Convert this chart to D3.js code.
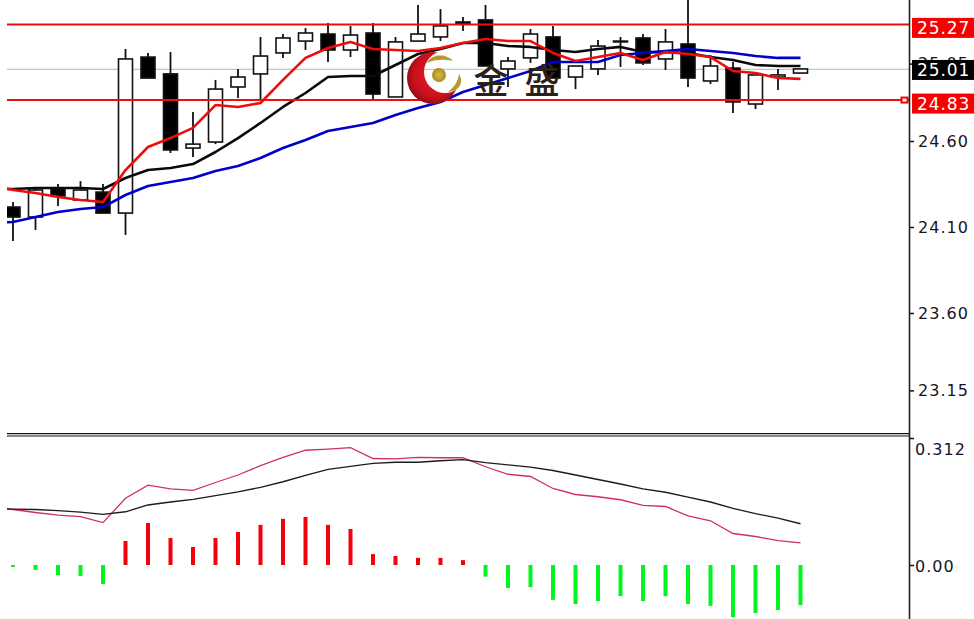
<!DOCTYPE html>
<html>
<head>
<meta charset="utf-8">
<script src="https://cdnjs.cloudflare.com/ajax/libs/d3/7.8.5/d3.min.js"></script>
<style type="text/css">
html, body { margin: 0; padding: 0; background: #fff; }
svg { display: block; }
svg text { font-family: 'DejaVu Sans', sans-serif; }
.axis text { font-size: 16px; letter-spacing: 1.05px; fill: #15151f; }
.axis line { stroke: #111; stroke-width: 1.5; }
.badge text { font-size: 17px; letter-spacing: 0.9px; fill: #fff; }
</style>
</head>
<body>
<div id="chart"></div>
<script type="text/javascript">

// candles
var opens  = [24.216,24.158,24.321,24.257,24.303,24.181,25.088,24.990,24.559,24.594,24.914,24.990,25.112,25.181,25.222,25.129,25.228,24.856,25.181,25.205,25.283,25.304,25.019,25.083,25.205,24.972,25.019,25.176,25.199,25.077,25.164,24.949,25.024,24.815,24.972,24.995];
var closes = [24.158,24.315,24.280,24.315,24.181,25.077,24.966,24.548,24.582,24.902,24.972,25.094,25.199,25.228,25.129,25.216,24.873,25.176,25.222,25.269,25.292,25.036,25.065,25.222,24.966,25.036,25.152,25.181,25.054,25.176,24.966,25.036,24.827,24.984,24.984,25.019];
var highs  = [24.245,24.333,24.350,24.367,24.350,25.135,25.112,25.117,24.769,24.955,25.019,25.205,25.222,25.257,25.286,25.269,25.286,25.205,25.391,25.367,25.321,25.391,25.088,25.251,25.269,25.036,25.187,25.205,25.222,25.251,25.420,25.100,25.059,24.984,25.019,25.019];
var lows   = [24.019,24.083,24.222,24.257,24.181,24.054,24.966,24.530,24.507,24.582,24.850,24.838,25.083,25.129,25.059,25.088,24.844,24.856,25.181,25.181,25.240,25.036,24.914,25.054,24.966,24.902,24.984,25.030,25.042,25.013,24.914,24.931,24.763,24.786,24.897,24.995];

// moving averages, first value sits one bar left of the first candle
var maRed   = [24.344,24.315,24.298,24.274,24.257,24.245,24.431,24.565,24.617,24.676,24.809,24.798,24.821,24.955,25.083,25.141,25.176,25.135,25.129,25.123,25.141,25.170,25.193,25.181,25.181,25.112,25.065,25.088,25.112,25.071,25.117,25.106,25.088,25.007,24.995,24.966,24.961];
var maBlack = [24.321,24.321,24.327,24.327,24.327,24.321,24.385,24.431,24.443,24.466,24.536,24.617,24.705,24.798,24.879,24.972,24.978,24.978,25.042,25.106,25.135,25.170,25.170,25.152,25.147,25.129,25.117,25.135,25.147,25.117,25.117,25.112,25.088,25.071,25.042,25.036,25.036];
var maBlue  = [24.123,24.129,24.158,24.187,24.205,24.216,24.286,24.338,24.362,24.385,24.426,24.455,24.501,24.559,24.606,24.658,24.681,24.705,24.751,24.792,24.827,24.885,24.926,24.966,25.007,25.059,25.059,25.059,25.100,25.112,25.123,25.135,25.123,25.112,25.094,25.083,25.083];

// macd panel
var macdFast = [0.160,0.148,0.140,0.133,0.129,0.113,0.178,0.213,0.203,0.199,0.220,0.240,0.265,0.287,0.306,0.309,0.313,0.284,0.283,0.287,0.286,0.286,0.262,0.242,0.236,0.204,0.188,0.182,0.174,0.159,0.156,0.131,0.118,0.084,0.076,0.065,0.059];
var macdSlow = [0.149,0.149,0.148,0.145,0.141,0.135,0.142,0.160,0.168,0.175,0.185,0.195,0.207,0.222,0.239,0.255,0.263,0.271,0.274,0.274,0.278,0.281,0.273,0.267,0.261,0.252,0.240,0.228,0.216,0.203,0.194,0.181,0.168,0.151,0.137,0.125,0.110];
var macdHist = [-0.005,-0.013,-0.027,-0.029,-0.051,0.064,0.112,0.072,0.048,0.072,0.088,0.107,0.123,0.128,0.107,0.096,0.029,0.024,0.019,0.019,0.013,-0.031,-0.061,-0.059,-0.093,-0.104,-0.096,-0.083,-0.096,-0.083,-0.104,-0.109,-0.139,-0.128,-0.120,-0.107];

// axis labels and levels
var priceTicks = [25.05, 24.60, 24.10, 23.60, 23.15];
var macdTicks = [0.312, 0];
var levelLines = [25.278, 24.838];
var lastLine = 25.016;
var badgeLabels = ["25.27", "25.01", "24.83"];
var badgeValues = [25.278, 25.016, 24.838];

var width = 974, height = 619, left = 7, right = 909, sep = 433;

var svg = d3.select("#chart").append("svg")
  .attr("width", width)
  .attr("height", height);

var x = d3.scaleLinear().domain([0, 35]).range([13, 800.5]);
var y = d3.scaleLinear().domain([24.6, 23.15]).range([141, 390.4]);
var yMacd = d3.scaleLinear().domain([0, 0.312]).range([565, 448]);

var defs = svg.append("defs");
defs.append("clipPath").attr("id", "top-clip").append("rect")
  .attr("x", left).attr("y", 0).attr("width", right - left).attr("height", sep);
defs.append("clipPath").attr("id", "bottom-clip").append("rect")
  .attr("x", left).attr("y", sep).attr("width", right - left).attr("height", height - sep);

var topPanel = svg.append("g").attr("clip-path", "url(#top-clip)");
var bottomPanel = svg.append("g").attr("clip-path", "url(#bottom-clip)");

// last price line goes under the candles
topPanel.append("line")
  .attr("x1", left).attr("x2", right)
  .attr("y1", y(lastLine)).attr("y2", y(lastLine))
  .style("stroke", "#c4c4c4").style("stroke-width", 1.2);

// candles
var candles = topPanel.selectAll("g.candle")
  .data(opens.map(function(d, i) { return {i: i, o: d, c: closes[i], h: highs[i], l: lows[i]}; }))
  .enter().append("g").attr("class", "candle");

candles.append("line")
  .attr("x1", function(d) { return x(d.i); })
  .attr("x2", function(d) { return x(d.i); })
  .attr("y1", function(d) { return y(d.h); })
  .attr("y2", function(d) { return y(d.l); })
  .style("stroke", "#111").style("stroke-width", 1.8);

candles.append("rect")
  .attr("x", function(d) { return x(d.i) - 7; })
  .attr("width", 14)
  .attr("y", function(d) { return y(Math.max(d.o, d.c)); })
  .attr("height", function(d) { return Math.abs(y(d.o) - y(d.c)); })
  .style("fill", function(d) { return d.c < d.o ? "#000" : "#fff"; })
  .style("stroke", "#111").style("stroke-width", 1.6);

// moving averages
var maLine = d3.line()
  .x(function(d, i) { return x(i - 1); })
  .y(function(d) { return y(d); });

[[maBlack, "#0a0a0a"], [maBlue, "#0000c8"], [maRed, "#f00c0c"]].forEach(function(s) {
  topPanel.append("path")
    .attr("d", maLine(s[0]))
    .style("fill", "none")
    .style("stroke", s[1])
    .style("stroke-width", 2.6)
    .style("stroke-linejoin", "round");
});

// support and resistance
levelLines.forEach(function(v) {
  topPanel.append("line")
    .attr("x1", left).attr("x2", right)
    .attr("y1", y(v)).attr("y2", y(v))
    .style("stroke", "#f20d0d").style("stroke-width", 2);
});
svg.append("rect")
  .attr("x", 901.5).attr("y", y(levelLines[1]) - 2.5)
  .attr("width", 6).attr("height", 5)
  .style("fill", "#fff").style("stroke", "#f00").style("stroke-width", 2);

// watermark
var grad = defs.append("radialGradient").attr("id", "ball")
  .attr("cx", "55%").attr("cy", "45%").attr("r", "60%");
grad.append("stop").attr("offset", "0%").attr("stop-color", "#e8202a");
grad.append("stop").attr("offset", "70%").attr("stop-color", "#c8101c");
grad.append("stop").attr("offset", "100%").attr("stop-color", "#8a0c12");
var gold = defs.append("radialGradient").attr("id", "gold");
gold.append("stop").attr("offset", "0%").attr("stop-color", "#d8c04a");
gold.append("stop").attr("offset", "100%").attr("stop-color", "#a98a1e");
var mask = defs.append("mask").attr("id", "crescent");
mask.append("rect").attr("width", width).attr("height", height).style("fill", "#fff");
mask.append("circle").attr("cx", 445).attr("cy", 72).attr("r", 21).style("fill", "#000");

var logo = svg.append("g");
logo.append("circle")
  .attr("cx", 433).attr("cy", 78).attr("r", 26)
  .attr("mask", "url(#crescent)")
  .style("fill", "url(#ball)");
logo.append("circle")
  .attr("cx", 439).attr("cy", 75).attr("r", 7)
  .style("fill", "url(#gold)");
logo.append("path")
  .attr("d", "M427,63 C432,53 447,54 453,61 C445,59 435,59 427,63 Z")
  .style("fill", "#b89a2a");
logo.append("path")
  .attr("d", "M448,92 C454,87 458,82 459,74 C464,82 460,91 448,92 Z")
  .style("fill", "#b89a2a");
logo.selectAll("text")
  .data([["金", 491], ["盛", 542]])
  .enter().append("text")
  .attr("x", function(d) { return d[1]; })
  .attr("y", 94)
  .attr("text-anchor", "middle")
  .text(function(d) { return d[0]; })
  .style("font-family", "'Noto Sans CJK SC', sans-serif")
  .style("font-size", "35px")
  .style("font-weight", 500)
  .style("fill", "#2b2119");

// macd
bottomPanel.selectAll("rect.hist")
  .data(macdHist)
  .enter().append("rect")
  .attr("class", "hist")
  .attr("x", function(d, i) { return x(i) - 2; })
  .attr("width", 4)
  .attr("y", function(d) { return Math.min(yMacd(d), yMacd(0)); })
  .attr("height", function(d) { return Math.abs(yMacd(d) - yMacd(0)); })
  .style("fill", function(d) { return d < 0 ? "#00f520" : "#f5000a"; });

var macdLine = d3.line()
  .x(function(d, i) { return x(i - 1); })
  .y(function(d) { return yMacd(d); });

bottomPanel.append("path").attr("d", macdLine(macdFast))
  .style("fill", "none").style("stroke", "#d0305a").style("stroke-width", 1.3);
bottomPanel.append("path").attr("d", macdLine(macdSlow))
  .style("fill", "none").style("stroke", "#1c1c1c").style("stroke-width", 1.3);

// panel separator and right edge
svg.append("line")
  .attr("x1", left).attr("x2", right).attr("y1", 433.5).attr("y2", 433.5)
  .style("stroke", "#111").style("stroke-width", 1);
svg.append("line")
  .attr("x1", left).attr("x2", right + 1).attr("y1", 435.8).attr("y2", 435.8)
  .style("stroke", "#888").style("stroke-width", 2.4);
svg.append("line")
  .attr("x1", right + 0.5).attr("x2", right + 0.5).attr("y1", 0).attr("y2", height)
  .style("stroke", "#222").style("stroke-width", 1.6);

// axes
var priceAxis = d3.axisRight(y).tickValues(priceTicks).tickSize(4).tickPadding(4).tickFormat(d3.format(".2f"));
svg.append("g").attr("class", "axis")
  .attr("transform", "translate(" + (right + 1) + ",0)")
  .call(priceAxis)
  .call(function(g) { g.select(".domain").remove(); });

var macdAxis = d3.axisRight(yMacd).tickValues(macdTicks).tickSize(4).tickPadding(1)
  .tickFormat(function(d) { return d === 0 ? "0.00" : "0.312"; });
svg.append("g").attr("class", "axis")
  .attr("transform", "translate(" + (right + 1) + ",0)")
  .call(macdAxis)
  .call(function(g) {
    g.select(".domain").remove();
    g.selectAll(".tick text").attr("y", 1.5);
    g.selectAll(".tick line").attr("y1", function(d) { return d > 0 ? -10 : 0; })
      .attr("y2", function(d) { return d > 0 ? -10 : 0; });
  });

// price badges
var badges = svg.selectAll("g.badge")
  .data(badgeValues.map(function(d, i) { return {v: d, label: badgeLabels[i], last: i === 1}; }))
  .enter().append("g").attr("class", "badge");
badges.append("rect")
  .attr("x", right + 3)
  .attr("width", width - right - 3)
  .attr("y", function(d) { return y(d.v) - (d.last ? 9.5 : 6.5); })
  .attr("height", 20)
  .style("fill", function(d) { return d.last ? "#000" : "#f70000"; });
badges.append("text")
  .attr("x", right + 8)
  .attr("y", function(d) { return y(d.v) + (d.last ? 6.5 : 9.5); })
  .text(function(d) { return d.label; });

</script>
</body>
</html>
